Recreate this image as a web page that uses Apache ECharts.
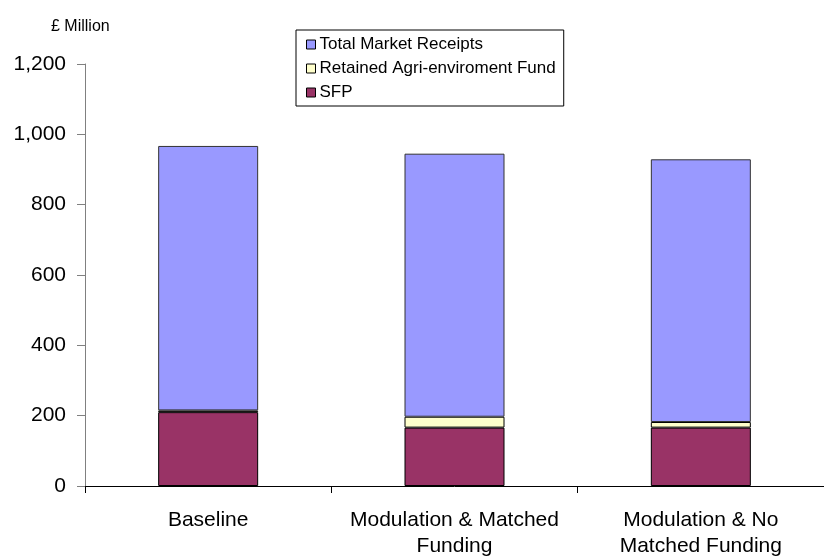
<!DOCTYPE html>
<html>
<head>
<meta charset="utf-8">
<script src="https://cdn.jsdelivr.net/npm/echarts@6/dist/echarts.min.js"></script>
<style>html,body{margin:0;padding:0;background:#fff}#c{width:824px;height:559px}</style>
</head>
<body>
<div id="c"></div>
<script>
const categories = ['Baseline', 'Modulation & Matched\nFunding', 'Modulation & No\nMatched Funding'];
const sfp = [210, 166, 166];
const retained = [5, 31, 16];
const marketReceipts = [752, 748, 747];
const yTicks = [0, 200, 400, 600, 800, 1000, 1200];

const chart = echarts.init(document.getElementById('c'));
const font = 'Arial, "Liberation Sans", sans-serif';
chart.setOption({
  animation: false,
  textStyle: { fontFamily: font },
  title: {
    text: '£ Million', left: 51, top: 19, padding: 0,
    textStyle: { fontSize: 16, fontWeight: 'normal', color: '#000', fontFamily: font }
  },
  legend: {
    orient: 'vertical', left: 296, top: 30,
    data: ['Total Market Receipts', 'Retained Agri-enviroment Fund', 'SFP'],
    borderColor: '#000', borderWidth: 1, borderRadius: 0,
    padding: [6, 8, 5, 10],
    itemWidth: 9, itemHeight: 9, itemGap: 7,
    icon: 'rect',
    textStyle: { fontSize: 17, color: '#000', fontFamily: font, padding: [0, 0, 0, -1] },
    itemStyle: { borderColor: '#000', borderWidth: 1 }
  },
  grid: { left: 85, top: 64, bottom: 72, right: -10, containLabel: false },
  xAxis: {
    type: 'category', data: categories,
    axisLine: { lineStyle: { color: '#000', width: 1 } },
    axisTick: { show: true, alignWithLabel: false, length: 7, lineStyle: { color: '#000' } },
    axisLabel: { fontSize: 21, color: '#000', margin: 21, lineHeight: 26, interval: 0, fontFamily: font }
  },
  yAxis: {
    type: 'value', min: 0, max: 1200, interval: 200,
    axisLine: { show: true, lineStyle: { color: '#808080', width: 1 } },
    axisTick: { show: true, length: 8, lineStyle: { color: '#808080' } },
    splitLine: { show: false },
    axisLabel: {
      fontSize: 21, color: '#000', margin: 19, fontFamily: font,
      formatter: v => yTicks.includes(v) ? v.toLocaleString('en-US') : ''
    }
  },
  series: [
    { name: 'SFP', type: 'bar', stack: 't', data: sfp, barWidth: 100,
      itemStyle: { color: '#993366', borderColor: '#000', borderWidth: 1 } },
    { name: 'Retained Agri-enviroment Fund', type: 'bar', stack: 't', data: retained,
      itemStyle: { color: '#FFFFCC', borderColor: '#000', borderWidth: 1 } },
    { name: 'Total Market Receipts', type: 'bar', stack: 't', data: marketReceipts,
      itemStyle: { color: '#9999FF', borderColor: '#333', borderWidth: 1 } }
  ]
});
</script>
</body>
</html>
